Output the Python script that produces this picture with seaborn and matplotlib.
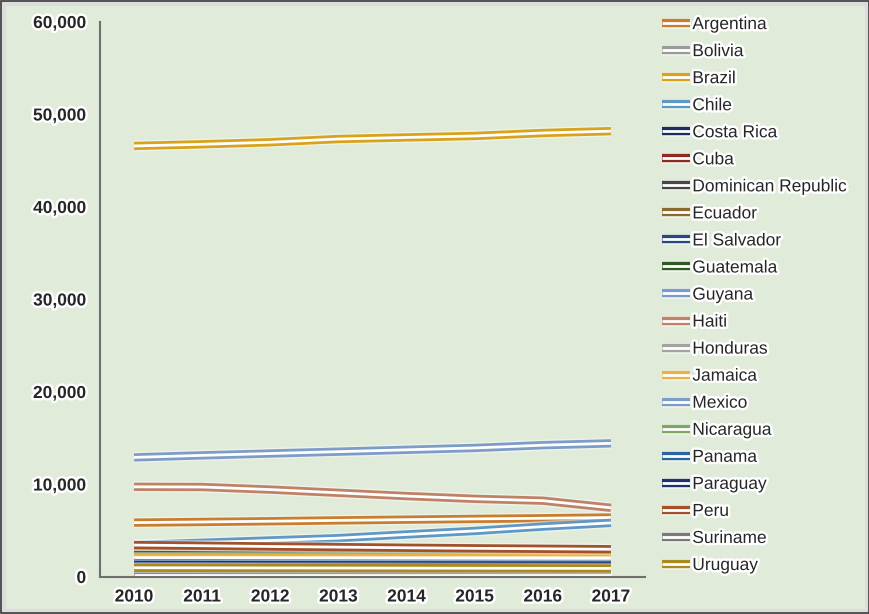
import pandas as pd
import seaborn as sns
import matplotlib.pyplot as plt
import matplotlib.patheffects as pe
from matplotlib.lines import Line2D
from matplotlib.patches import Rectangle
from matplotlib.ticker import FuncFormatter

## data
years = [2010, 2011, 2012, 2013, 2014, 2015, 2016, 2017]

argentina = [5880, 5950, 6030, 6120, 6200, 6280, 6350, 6430]
bolivia = [600, 620, 640, 660, 680, 700, 720, 740]
brazil = [46600, 46780, 47000, 47350, 47520, 47680, 48000, 48200]
chile = [3450, 3700, 3950, 4200, 4600, 4980, 5450, 5850]
costa_rica = [1900, 1900, 1880, 1870, 1860, 1850, 1840, 1830]
cuba = [2900, 2880, 2850, 2820, 2800, 2780, 2760, 2740]
dominican_republic = [2700, 2690, 2680, 2660, 2650, 2640, 2620, 2600]
ecuador = [2500, 2490, 2470, 2450, 2430, 2410, 2390, 2380]
el_salvador = [1700, 1690, 1670, 1650, 1630, 1610, 1600, 1590]
guatemala = [2350, 2340, 2320, 2300, 2290, 2270, 2250, 2240]
guyana = [150, 150, 150, 150, 150, 150, 150, 150]
haiti = [9750, 9730, 9450, 9100, 8750, 8450, 8250, 7480]
honduras = [1200, 1190, 1180, 1170, 1160, 1150, 1140, 1130]
jamaica = [2100, 2100, 2090, 2090, 2080, 2080, 2080, 2070]
mexico = [12930, 13150, 13350, 13550, 13750, 13950, 14250, 14450]
nicaragua = [900, 890, 880, 870, 860, 850, 840, 830]
panama = [1500, 1480, 1460, 1440, 1420, 1400, 1390, 1380]
paraguay = [1300, 1290, 1280, 1270, 1260, 1250, 1240, 1230]
peru = [3450, 3380, 3300, 3230, 3160, 3100, 3050, 3000]
suriname = [220, 220, 220, 220, 220, 220, 220, 220]
uruguay = [1000, 990, 980, 970, 960, 950, 940, 930]

countries = ["Argentina", "Bolivia", "Brazil", "Chile", "Costa Rica", "Cuba",
             "Dominican Republic", "Ecuador", "El Salvador", "Guatemala", "Guyana",
             "Haiti", "Honduras", "Jamaica", "Mexico", "Nicaragua", "Panama",
             "Paraguay", "Peru", "Suriname", "Uruguay"]
series = [argentina, bolivia, brazil, chile, costa_rica, cuba, dominican_republic,
          ecuador, el_salvador, guatemala, guyana, haiti, honduras, jamaica, mexico,
          nicaragua, panama, paraguay, peru, suriname, uruguay]
colors = ["#c97d2e", "#9b9b9b", "#d9a21b", "#5e98c6", "#1d2c5e", "#8e2a22",
          "#474747", "#8a6a2e", "#234a85", "#2f5a26", "#7a9bcc", "#c08266",
          "#a3a3a3", "#e8b245", "#7d9cc8", "#7ea764", "#2d63a3", "#1e326e",
          "#a3512a", "#7a7a7a", "#a88a1f"]

## long format table
rows = []
for name, vals in zip(countries, series):
    for yr, v in zip(years, vals):
        rows.append({"Country": name, "Year": yr, "Value": v})
df = pd.DataFrame(rows)

bg = "#e0ebda"
sns.set_theme(style="white")
plt.rcParams['font.family'] = ['Liberation Sans', 'DejaVu Sans']

fig = plt.figure(figsize=(8.7, 6.14), dpi=100, facecolor=bg)
ax = fig.add_axes([100/870, 37/614, 545/870, 555/614])
ax.set_facecolor(bg)

halo = [pe.withStroke(linewidth=3.5, foreground="white")]

def line_fx(c):
    return [pe.Stroke(linewidth=8, foreground="white", alpha=0.45),
            pe.Stroke(linewidth=6, foreground=c),
            pe.Normal()]

## draw each country as a "double line": colored stroke with white core
for name, c in zip(countries, colors):
    sns.lineplot(data=df[df["Country"] == name], x="Year", y="Value",
                 color="white", linewidth=2, ax=ax, legend=False)
    ln = ax.lines[-1]
    ln.set_solid_capstyle("butt")
    ln.set_solid_joinstyle("miter")
    ln.set_path_effects(line_fx(c))

ax.set_xlim(2009.5, 2017.5)
ax.set_ylim(0, 60000)
ax.set_xticks(years)
ax.set_yticks(range(0, 60001, 10000))
ax.yaxis.set_major_formatter(FuncFormatter(lambda v, p: f"{int(v):,}"))
ax.set_xlabel("")
ax.set_ylabel("")
ax.tick_params(length=0, labelsize=12.5)
ax.tick_params(axis="y", pad=10)
ax.tick_params(axis="x", pad=9)
for lab in ax.get_xticklabels() + ax.get_yticklabels():
    lab.set_fontweight("bold")
    lab.set_path_effects(halo)

sns.despine(ax=ax)
for s in ["left", "bottom"]:
    ax.spines[s].set_color("#6f6f6f")
    ax.spines[s].set_linewidth(1.5)

handles = []
for n, c in zip(countries, colors):
    h = Line2D([], [], color="white", linewidth=2, path_effects=line_fx(c), label=n)
    h.set_solid_capstyle("butt")
    handles.append(h)
leg = fig.legend(handles=handles, loc="upper left", bbox_to_anchor=(655/870, 1 - 10/614),
                 frameon=False, fontsize=12.5, handlelength=1.6, handletextpad=0.15,
                 labelspacing=0.685, borderaxespad=0)
for t in leg.get_texts():
    t.set_path_effects(halo)

## grey frame round the figure
fig.patches.append(Rectangle((0, 0), 1, 1, transform=fig.transFigure, fill=False,
                             edgecolor="#dcdcdc", linewidth=8, zorder=10))
fig.patches.append(Rectangle((0.001, 0.001), 0.998, 0.998, transform=fig.transFigure,
                             fill=False, edgecolor="#3a3a3a", linewidth=1.2, zorder=11))

plt.savefig("out.png", dpi=100, facecolor=bg)
